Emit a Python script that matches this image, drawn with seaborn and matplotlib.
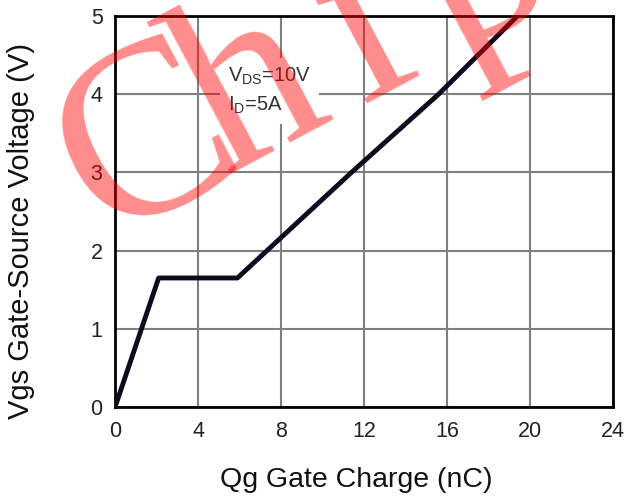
import numpy as np
import pandas as pd
import matplotlib
matplotlib.use("Agg")
import matplotlib.pyplot as plt
import seaborn as sns

# gate charge curve
qg_nc = [0.0, 2.1, 5.9, 11.4, 15.6, 19.4]
vgs_v = [0.0, 1.65, 1.65, 3.0, 4.0, 5.0]
x_ticks = [0, 4, 8, 12, 16, 20, 24]
y_ticks = [0, 1, 2, 3, 4, 5]

df = pd.DataFrame({"Qg": qg_nc, "Vgs": vgs_v})

sns.set_style("white")
plt.rcParams['font.family'] = ['Liberation Sans', 'DejaVu Sans']
plt.rcParams['mathtext.default'] = 'regular'

W, H = 643, 500
fig = plt.figure(figsize=(W / 100, H / 100), dpi=100)
ax = fig.add_axes([0.179, 0.186, 0.774, 0.782])

sns.lineplot(data=df, x="Qg", y="Vgs", sort=False, color="#0d0b1e", lw=3.5,
             ax=ax, zorder=4)

ax.set_xlim(0, 24)
ax.set_ylim(0, 5)
ax.set_xticks(x_ticks)
ax.set_yticks(y_ticks)
ax.grid(True, color="#808080", lw=1.5)
ax.set_axisbelow(True)
for s in ax.spines.values():
    s.set_color("black")
    s.set_linewidth(2)
ax.tick_params(axis="both", labelsize=15.5, colors="#222222", length=0)
ax.tick_params(axis="x", pad=10)
ax.tick_params(axis="y", pad=9)

ax.set_xlabel("Qg Gate Charge (nC)", fontsize=20.5, color="#111111")
ax.set_ylabel("Vgs Gate-Source Voltage (V)", fontsize=21, color="#111111")
ax.xaxis.set_label_coords(0.484, -0.187)
ax.xaxis.label.set_verticalalignment("center")
ax.yaxis.set_label_coords(-0.19, 0.45)
ax.yaxis.label.set_verticalalignment("center")

ax.text(5.45, 4.36, "V$_{DS}$=10V\nI$_{D}$=5A", fontsize=14.5, color="#333333",
        va="top", ha="left", linespacing=1.45, zorder=3,
        bbox=dict(boxstyle="square,pad=0.4", fc="white", ec="none"))

# red watermark, letters laid along a tilted baseline
ang = 28
ox, oy = 104, 240
d = np.array([np.cos(np.radians(ang)), -np.sin(np.radians(ang))])
for ch, off in [("C", 0), ("h", 138), ("i", 292), ("p", 396)]:
    px, py = ox + off * d[0], oy + off * d[1]
    fig.text(px / W, 1 - py / H, ch, fontsize=180, family="Liberation Serif",
             color="red", alpha=0.45, rotation=ang, rotation_mode="anchor",
             ha="left", va="baseline", zorder=10)

fig.savefig("out.png", dpi=100)
